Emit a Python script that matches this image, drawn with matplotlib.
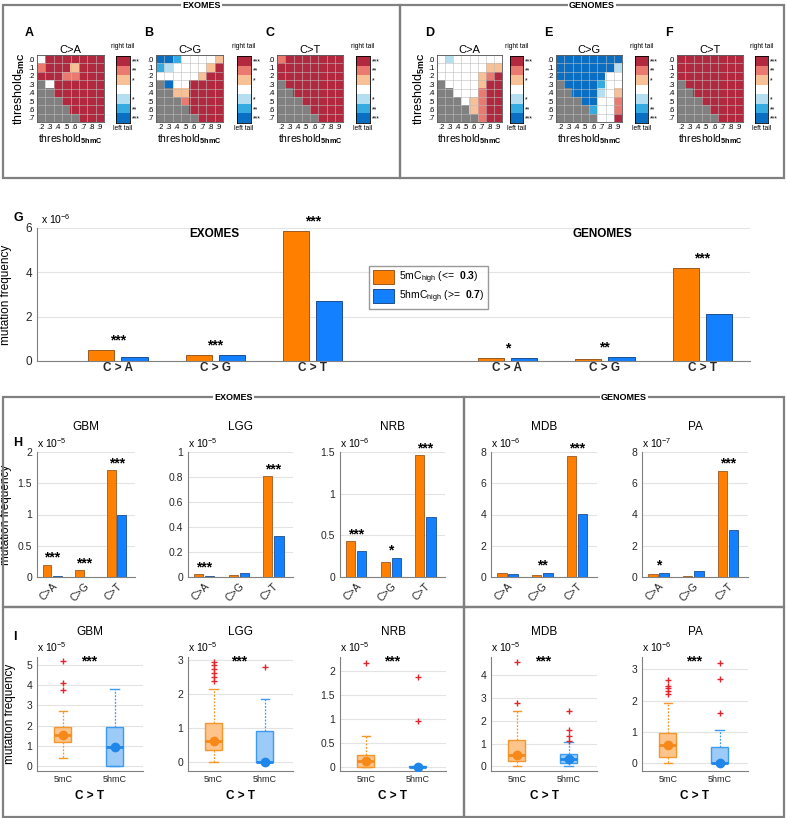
import numpy as np
import matplotlib
matplotlib.use("Agg")
import matplotlib.pyplot as plt
from matplotlib.colors import ListedColormap, BoundaryNorm
from matplotlib.patches import Rectangle

plt.rcParams['font.family'] = ['Liberation Sans', 'DejaVu Sans']
plt.rcParams['mathtext.fontset'] = 'custom'
plt.rcParams['mathtext.rm'] = 'Liberation Sans'
plt.rcParams['mathtext.it'] = 'Liberation Sans:italic'
plt.rcParams['mathtext.bf'] = 'Liberation Sans:bold'

N = np.nan

# ---- panels A-F : significance levels (+3 right tail *** ... -3 left tail ***)
thr_5mc = ['.0', '.1', '.2', '.3', '.4', '.5', '.6', '.7']
thr_5hmc = ['.2', '.3', '.4', '.5', '.6', '.7', '.8', '.9']

heat_exo_ca = [
    [0, 3, 3, 3, 3, 3, 3, 3],
    [2, 3, 3, 3, 1, 3, 3, 3],
    [3, 3, 3, 2, 2, 3, 3, 3],
    [N, 0, 3, 3, 3, 3, 3, 3],
    [N, N, 3, 3, 3, 3, 3, 3],
    [N, N, N, 3, 3, 3, 3, 3],
    [N, N, N, N, 3, 3, 3, 3],
    [N, N, N, N, N, 3, 3, 3],
]
heat_exo_cg = [
    [-3, -3, -2, 0, 0, 0, 0, 1],
    [-2, -1, 0, 0, 0, 0, 1, 3],
    [0, 0, 0, 0, 0, 1, 3, 3],
    [N, -3, 0, 0, 3, 3, 3, 3],
    [N, N, 1, 1, 3, 3, 3, 3],
    [N, N, N, 2, 3, 3, 3, 3],
    [N, N, N, N, 3, 3, 3, 3],
    [N, N, N, N, N, 3, 3, 3],
]
heat_exo_ct = [
    [2, 3, 3, 3, 3, 3, 3, 3],
    [3, 3, 3, 3, 3, 3, 3, 3],
    [3, 3, 3, 3, 3, 3, 3, 3],
    [N, 3, 3, 3, 3, 3, 3, 3],
    [N, N, 3, 3, 3, 3, 3, 3],
    [N, N, N, 3, 3, 3, 3, 3],
    [N, N, N, N, 3, 3, 3, 3],
    [N, N, N, N, N, 3, 3, 3],
]
heat_gen_ca = [
    [0, -1, 0, 0, 0, 0, 0, 0],
    [0, 0, 0, 0, 0, 0, 1, 1],
    [0, 0, 0, 0, 0, 1, 2, 3],
    [N, 0, 0, 0, 0, 1, 3, 3],
    [N, N, 0, 0, 0, 2, 3, 3],
    [N, N, N, 0, 1, 2, 3, 3],
    [N, N, N, N, 1, 2, 3, 3],
    [N, N, N, N, N, 2, 3, 3],
]
heat_gen_cg = [
    [-3, -3, -3, -3, -3, -3, -3, -3],
    [-3, -3, -3, -3, -3, -3, -3, -1],
    [-3, -3, -3, -3, -3, -3, 0, 0],
    [N, -3, -3, -3, -3, -2, 0, 0],
    [N, N, -3, -3, -3, -1, 0, 1],
    [N, N, N, -3, -3, 0, 0, 2],
    [N, N, N, N, -2, 0, 0, 2],
    [N, N, N, N, N, 0, 0, 3],
]
heat_gen_ct = [
    [3, 3, 3, 3, 3, 3, 3, 3],
    [3, 3, 3, 3, 3, 3, 3, 3],
    [3, 3, 3, 3, 3, 3, 3, 3],
    [N, 3, 3, 3, 3, 3, 3, 3],
    [N, N, 3, 3, 3, 3, 3, 3],
    [N, N, N, 3, 3, 3, 3, 3],
    [N, N, N, N, 3, 3, 3, 3],
    [N, N, N, N, N, 3, 3, 3],
]
cbar_levels = [3, 2, 1, 0, -1, -2, -3]
cbar_labels = ['***', '**', '*', '', '*', '**', '***']

# ---- panel G
g_cats = ['C > A', 'C > G', 'C > T', 'C > A', 'C > G', 'C > T']
g_pos = [1, 2, 3, 5, 6, 7]
g_5mc = [0.50, 0.25, 5.85, 0.12, 0.07, 4.20]
g_5hmc = [0.20, 0.25, 2.70, 0.12, 0.17, 2.12]
g_stars = ['***', '***', '***', '*', '**', '***']

# ---- panel H
h_names = ['GBM', 'LGG', 'NRB', 'MDB', 'PA']
h_exp = [-5, -5, -6, -6, -7]
h_cats = ['C>A', 'C>G', 'C>T']
h_ymax = [2, 1, 1.5, 8, 8]
h_yticks = [[0, 0.5, 1, 1.5, 2], [0, 0.2, 0.4, 0.6, 0.8, 1], [0, 0.5, 1, 1.5],
            [0, 2, 4, 6, 8], [0, 2, 4, 6, 8]]
h_5mc = [[0.20, 0.11, 1.71], [0.024, 0.015, 0.806], [0.43, 0.18, 1.46],
         [0.25, 0.12, 7.75], [0.20, 0.06, 6.79]]
h_5hmc = [[0.01, 0.005, 0.99], [0.01, 0.03, 0.33], [0.31, 0.23, 0.72],
          [0.20, 0.28, 4.02], [0.26, 0.38, 3.00]]
h_stars = [['***', '***', '***'], ['***', '', '***'], ['***', '*', '***'],
           ['', '**', '***'], ['*', '', '***']]

# ---- panel I (C>T box plots)
i_exp = [-5, -5, -5, -5, -6]
i_ylim = [(-0.25, 5.4), (-0.25, 3.1), (-0.08, 2.3), (-0.2, 4.8), (-0.25, 3.4)]
i_yticks = [[0, 1, 2, 3, 4, 5], [0, 1, 2, 3], [0, 0.5, 1, 1.5, 2], [0, 1, 2, 3, 4], [0, 1, 2, 3]]
# q1, median, q3, whisker low, whisker high, outliers
i_5mc = [
    (1.20, 1.55, 1.92, 0.40, 2.70, [3.74, 4.10, 5.18]),
    (0.37, 0.64, 1.15, 0.00, 2.17, [2.40, 2.52, 2.64, 2.76, 2.86, 2.95]),
    (0.00, 0.12, 0.26, 0.00, 0.65, [2.17]),
    (0.24, 0.52, 1.18, 0.04, 2.44, [2.79, 4.56]),
    (0.21, 0.58, 0.98, 0.00, 1.94, [2.22, 2.32, 2.40, 2.46, 2.66]),
]
i_5hmc = [
    (0.00, 0.94, 1.92, 0.00, 3.79, []),
    (0.00, 0.02, 0.93, 0.00, 1.88, [2.80]),
    (0.00, 0.00, 0.02, 0.00, 0.03, [0.96, 1.88]),
    (0.15, 0.32, 0.53, 0.00, 1.07, [1.10, 1.32, 1.60, 2.42]),
    (0.00, 0.01, 0.53, 0.00, 1.06, [1.60, 2.68, 3.21]),
]

ORANGE, ORANGE_EDGE = '#FF8000', '#9A5A22'
BLUE, BLUE_EDGE = '#1380FF', '#1F4E90'
GRAY = '#808080'

W, H = 787, 818
fig = plt.figure(figsize=(W / 100, H / 100), dpi=100)


def px_ax(x0, y0, x1, y1):
    return fig.add_axes([x0 / W, 1 - y1 / H, (x1 - x0) / W, (y1 - y0) / H])


def ftext(x, y, s, **kw):
    return fig.text(x / W, 1 - y / H, s, **kw)


def frame(x0, y0, x1, y1, label=None):
    fig.add_artist(Rectangle((x0 / W, 1 - y1 / H), (x1 - x0) / W, (y1 - y0) / H,
                             transform=fig.transFigure, fill=False, ec=GRAY, lw=1.6))
    if label:
        ftext((x0 + x1) / 2, y0, label, ha='center', va='center', fontsize=6.5,
              fontweight='bold', bbox=dict(fc='white', ec='none', pad=0.8))


def clean_axes(ax):
    for s in ['top', 'right']:
        ax.spines[s].set_visible(False)
    for s in ['left', 'bottom']:
        ax.spines[s].set_color(GRAY)
        ax.spines[s].set_linewidth(0.8)
    ax.tick_params(length=0, colors='#262626')
    ax.yaxis.grid(True, color='#e3e3e3', lw=0.8)
    ax.set_axisbelow(True)


def ylabel_at(ax, x_px, text):
    # place the y label centred at a given figure x pixel
    x0 = ax.get_position().x0 * W
    w = ax.get_position().width * W
    ax.set_ylabel(text, fontsize=8.5)
    ax.yaxis.set_label_coords((x_px - x0) / w, 0.5)


# ================= frames
frame(3, 5, 400, 178, 'EXOMES')
frame(400, 5, 784, 178, 'GENOMES')
frame(3, 397, 464, 607, 'EXOMES')
frame(464, 397, 784, 607, 'GENOMES')
frame(3, 607, 464, 817)
frame(464, 607, 784, 817)

# ================= heatmaps
heat_colors = ['#0A6FC2', '#36ABE2', '#B5DEF1', '#FFFFFF', '#F8C096', '#EA7970', '#B2283E']
cmap = ListedColormap(heat_colors)
cmap.set_bad(GRAY)
norm = BoundaryNorm(np.arange(-3.5, 4.5, 1), cmap.N)

heat_panels = [
    ('A', 'C>A', heat_exo_ca, 37, 104, 116, 130, True),
    ('B', 'C>G', heat_exo_cg, 156, 223, 237, 251, False),
    ('C', 'C>T', heat_exo_ct, 277, 343, 356, 370, False),
    ('D', 'C>A', heat_gen_ca, 437, 502, 510, 523, True),
    ('E', 'C>G', heat_gen_cg, 556, 622, 635, 648, False),
    ('F', 'C>T', heat_gen_ct, 677, 743, 755, 768, False),
]
for letter, title, mat, hx0, hx1, cx0, cx1, ylab in heat_panels:
    ax = px_ax(hx0, 55, hx1, 122)
    ax.imshow(np.array(mat, dtype=float), cmap=cmap, norm=norm, aspect='auto',
              interpolation='nearest')
    ax.set_xticks(range(8))
    ax.set_xticklabels(thr_5hmc, fontsize=5.5)
    ax.set_yticks(range(8))
    ax.set_yticklabels(thr_5mc, fontsize=5.5)
    ax.set_xticks(np.arange(-0.5, 8, 1), minor=True)
    ax.set_yticks(np.arange(-0.5, 8, 1), minor=True)
    ax.grid(which='minor', color='#bdbdbd', lw=0.4)
    ax.tick_params(which='both', length=0, pad=1.5)
    for s in ax.spines.values():
        s.set_color('#555555')
        s.set_linewidth(0.6)
    ax.set_title(title, fontsize=8, pad=1.5)
    ax.set_xlabel(r'threshold$_{\mathbf{5hmC}}$', fontsize=7.5, labelpad=1)
    if ylab:
        ax.set_ylabel(r'threshold$_{\mathbf{5mC}}$', fontsize=9, labelpad=1)
    ftext(hx0 - 12, 33, letter, fontsize=9, fontweight='bold', ha='left', va='center')

    cb = px_ax(cx0, 56, cx1, 123)
    cb.imshow(np.array(cbar_levels, dtype=float).reshape(-1, 1), cmap=cmap, norm=norm,
              aspect='auto')
    cb.set_xticks([])
    cb.set_yticks(range(7))
    cb.set_yticklabels(cbar_labels, fontsize=5)
    cb.yaxis.tick_right()
    cb.tick_params(length=0, pad=1.5)
    for s in cb.spines.values():
        s.set_linewidth(0.6)
    ftext((cx0 + cx1) / 2, 46, 'right tail', fontsize=4.8, ha='center', va='center')
    ftext((cx0 + cx1) / 2, 129, 'left tail', fontsize=4.8, ha='center', va='center')

# ================= panel G
axg = px_ax(37, 228, 750, 361)
clean_axes(axg)
gp = np.array(g_pos, dtype=float)
axg.bar(gp - 0.17, g_5mc, 0.27, color=ORANGE, edgecolor=ORANGE_EDGE, lw=0.7,
        label=r'5mC$_{\mathrm{high}}$ (<=  $\mathbf{0.3}$)')
axg.bar(gp + 0.17, g_5hmc, 0.27, color=BLUE, edgecolor=BLUE_EDGE, lw=0.7,
        label=r'5hmC$_{\mathrm{high}}$ (>=  $\mathbf{0.7}$)')
for x, a, b, s in zip(gp, g_5mc, g_5hmc, g_stars):
    axg.annotate(s, (x, max(a, b)), xytext=(0, 2), textcoords='offset points',
                 ha='center', va='bottom', fontsize=10, fontweight='bold')
axg.set_xlim(0.17, 7.49)
axg.set_ylim(0, 6)
axg.set_yticks([0, 2, 4, 6])
axg.set_yticklabels(['0', '2', '4', '6'], fontsize=8.5)
axg.set_xticks(gp)
axg.set_xticklabels(g_cats, fontsize=8.5, fontweight='bold')
axg.tick_params(axis='x', pad=1)
ylabel_at(axg, 12, 'mutation frequency')
axg.text(0.005, 1.015, r'x 10$^{-6}$', transform=axg.transAxes, fontsize=7.5,
         ha='left', va='bottom')
ftext(214, 234, 'EXOMES', fontsize=8.5, fontweight='bold', ha='center', va='center')
ftext(602, 234, 'GENOMES', fontsize=8.5, fontweight='bold', ha='center', va='center')
ftext(13, 218, 'G', fontsize=9, fontweight='bold', ha='left', va='center')
axg.legend(loc='upper left', bbox_to_anchor=(364 / W, 1 - 261 / H),
           bbox_transform=fig.transFigure, fontsize=7.5, frameon=True, fancybox=False,
           edgecolor=GRAY, handlelength=2.0, handleheight=1.7, borderpad=0.35,
           labelspacing=0.25, handletextpad=0.5)

# ================= panel H
h_x = [(37, 135), (188, 293), (340, 445), (491, 597), (642, 748)]
for k, name in enumerate(h_names):
    ax = px_ax(h_x[k][0], 452, h_x[k][1], 577)
    clean_axes(ax)
    xp = np.arange(1, 4)
    ax.bar(xp - 0.16, h_5mc[k], 0.27, color=ORANGE, edgecolor=ORANGE_EDGE, lw=0.6)
    ax.bar(xp + 0.16, h_5hmc[k], 0.27, color=BLUE, edgecolor=BLUE_EDGE, lw=0.6)
    for x, a, b, s in zip(xp, h_5mc[k], h_5hmc[k], h_stars[k]):
        if s:
            ax.annotate(s, (x, max(a, b)), xytext=(0, 0), textcoords='offset points',
                        ha='center', va='bottom', fontsize=10, fontweight='bold')
    ax.set_xlim(0.53, 3.57)
    ax.set_ylim(0, h_ymax[k])
    ax.set_yticks(h_yticks[k])
    ax.set_yticklabels([f'{t:g}' for t in h_yticks[k]], fontsize=7.5)
    ax.set_xticks(xp)
    ax.set_xticklabels(h_cats, fontsize=7.5, rotation=45, ha='right', va='top',
                       rotation_mode='anchor')
    ax.tick_params(axis='x', pad=3)
    ax.set_title(name, fontsize=8.5, pad=16)
    ax.text(0.0, 1.015, fr'x 10$^{{{h_exp[k]}}}$', transform=ax.transAxes, fontsize=7.5,
            ha='left', va='bottom')
    if k == 0:
        ylabel_at(ax, 12, 'mutation frequency')
ftext(13, 443, 'H', fontsize=9, fontweight='bold', ha='left', va='center')

# ================= panel I
i_x = [(37, 143), (188, 293), (340, 446), (491, 597), (642, 748)]
styles = [
    dict(edge='#F7962A', face='#FDC58C', med='#F7891B'),
    dict(edge='#3C9CF0', face='#9DCBF8', med='#1F86EA'),
]
for k, name in enumerate(h_names):
    ax = px_ax(i_x[k][0], 657, i_x[k][1], 771)
    clean_axes(ax)
    for j, st in enumerate([i_5mc[k], i_5hmc[k]]):
        q1, med, q3, lo, hi, fl = st
        c = styles[j]
        stats = [dict(q1=q1, med=med, q3=q3, whislo=lo, whishi=hi, fliers=fl)]
        ax.bxp(stats, positions=[j + 1], widths=0.33, patch_artist=True,
               boxprops=dict(facecolor=c['face'], edgecolor=c['edge'], lw=1.0),
               medianprops=dict(color=c['med'], lw=2.0),
               whiskerprops=dict(color=c['edge'], lw=0.9, ls=(0, (1.5, 1.2))),
               capprops=dict(color=c['edge'], lw=1.0),
               flierprops=dict(marker='+', markeredgecolor='#E3262D', markersize=4.5,
                               markeredgewidth=1.0))
        ax.plot([j + 1], [med], 'o', color=c['med'], markersize=6, zorder=5)
    ax.set_xlim(0.5, 2.55)
    ax.set_ylim(*i_ylim[k])
    ax.set_yticks(i_yticks[k])
    ax.set_yticklabels([f'{t:g}' for t in i_yticks[k]], fontsize=7.5)
    ax.set_xticks([1, 2])
    ax.set_xticklabels(['5mC', '5hmC'], fontsize=6.5)
    ax.tick_params(axis='x', pad=3)
    ax.set_xlabel('C > T', fontsize=8.5, fontweight='bold', labelpad=4)
    ax.set_title(name, fontsize=8.5, pad=16)
    ax.text(0.0, 1.03, fr'x 10$^{{{i_exp[k]}}}$', transform=ax.transAxes, fontsize=7.5,
            ha='left', va='bottom')
    ax.text(1.5, 1.02, '***', transform=ax.get_xaxis_transform(), fontsize=10,
            fontweight='bold', ha='center', va='top')
    if k == 0:
        ylabel_at(ax, 16, 'mutation frequency')
ftext(13, 637, 'I', fontsize=9, fontweight='bold', ha='left', va='center')

fig.savefig('out.png', dpi=100)
